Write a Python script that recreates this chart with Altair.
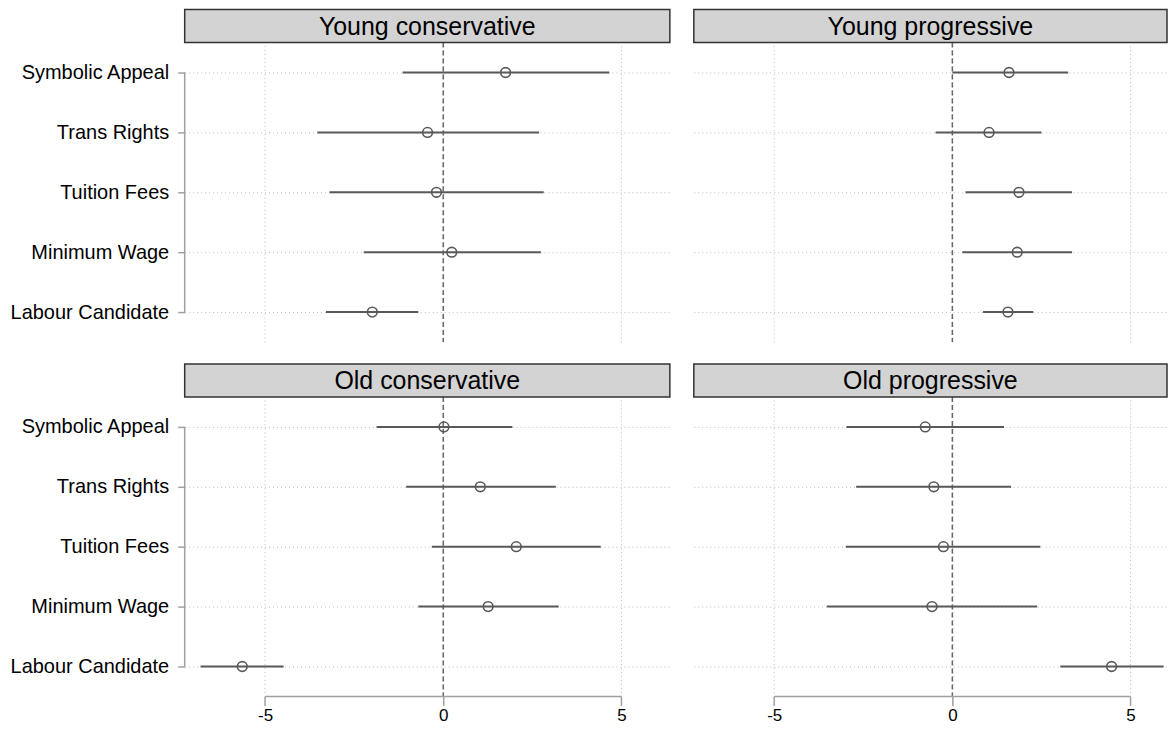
import altair as alt
import pandas as pd

items = ["Symbolic Appeal", "Trans Rights", "Tuition Fees", "Minimum Wage", "Labour Candidate"]
groups = ["Young conservative", "Young progressive", "Old conservative", "Old progressive"]

est_yc = [1.75, -0.44, -0.19, 0.24, -1.99]
lo_yc = [-1.14, -3.53, -3.19, -2.23, -3.29]
hi_yc = [4.66, 2.69, 2.82, 2.74, -0.70]

est_yp = [1.59, 1.03, 1.87, 1.82, 1.56]
lo_yp = [0.00, -0.47, 0.37, 0.28, 0.86]
hi_yp = [3.25, 2.50, 3.36, 3.36, 2.27]

est_oc = [0.02, 1.04, 2.05, 1.26, -5.64]
lo_oc = [-1.87, -1.04, -0.32, -0.70, -6.81]
hi_oc = [1.94, 3.16, 4.42, 3.24, -4.48]

est_op = [-0.76, -0.52, -0.25, -0.57, 4.47]
lo_op = [-2.97, -2.70, -2.99, -3.52, 3.03]
hi_op = [1.45, 1.65, 2.47, 2.38, 5.93]

tick_values = [-5, 0, 5]

series = {
    "Young conservative": (est_yc, lo_yc, hi_yc),
    "Young progressive": (est_yp, lo_yp, hi_yp),
    "Old conservative": (est_oc, lo_oc, hi_oc),
    "Old progressive": (est_op, lo_op, hi_op),
}

rows = []
for g in groups:
    e, l, h = series[g]
    for i, it in enumerate(items):
        rows.append({"group": g, "item": it, "est": e[i], "lo": l[i], "hi": h[i]})
df = pd.DataFrame(rows)

FONT = "Liberation Sans"
W1, W2, H = 486, 474, 300
HEAD = 33
XLO, XHI = -7.255, 6.36
unit = W1 / (XHI - XLO)
XHI2 = XLO + W2 / unit
LINE = "#595959"
AXC = "#a0a0a0"
GRID = "#bdbdbd"


def panel(g, width, xhi, left, bottom):
    base = alt.Chart(df).transform_filter(alt.datum.group == g)
    one = base.transform_filter(alt.datum.item == items[0])
    xscale = alt.Scale(domain=[XLO, xhi], nice=False, zero=False)
    yscale = alt.Scale(type="point", padding=0.5, domain=items)
    xaxis = alt.Axis(values=tick_values, grid=True, gridDash=[1, 3], gridColor=GRID, gridWidth=1,
                     domain=False, ticks=bottom, labels=bottom, tickSize=9, tickColor=AXC,
                     tickWidth=1.5, labelFontSize=17, labelFont=FONT, labelColor="black",
                     labelPadding=2, labelExpr="'' + datum.value", title=None)
    yaxis = alt.Axis(grid=True, gridDash=[1, 3], gridColor=GRID, gridWidth=1,
                     domain=False, ticks=left, labels=left, tickSize=7, tickColor=AXC,
                     tickWidth=1.5, labelFontSize=20, labelFont=FONT, labelColor="black",
                     labelPadding=9, title=None)

    zero = one.mark_rule(color="#666666", strokeDash=[5, 3], strokeWidth=1.5).encode(
        x=alt.datum(0), y=alt.value(0), y2=alt.value(H))
    ci = base.mark_rule(color=LINE, strokeWidth=2).encode(
        x=alt.X("lo:Q", scale=xscale, axis=xaxis),
        x2="hi:Q",
        y=alt.Y("item:N", scale=yscale, sort=items, axis=yaxis),
    )
    pts = base.mark_point(shape="circle", filled=False, color=LINE, strokeWidth=1.6,
                          size=95, opacity=1).encode(x="est:Q", y=alt.Y("item:N", sort=items))
    head = one.mark_rect(fill="#d3d3d3", stroke="#333333", strokeWidth=1.5).encode(
        x=alt.value(0), x2=alt.value(width), y=alt.value(-HEAD), y2=alt.value(0))
    txt = one.mark_text(fontSize=25, font=FONT, color="black", baseline="middle",
                        align="center").encode(
        x=alt.value(width / 2), y=alt.value(-HEAD / 2 + 1), text="group:N")
    layers = [zero, ci, pts, head, txt]
    if left:
        layers.append(one.mark_rule(color=AXC, strokeWidth=1.5).encode(
            x=alt.value(0), y=alt.YDatum(items[0], type="nominal"),
            y2=alt.Y2Datum(items[-1])))
    if bottom:
        layers.append(one.mark_rule(color=AXC, strokeWidth=1.5).encode(
            x=alt.datum(tick_values[0]), x2=alt.datum(tick_values[-1]), y=alt.value(H)))
    return alt.layer(*layers).properties(width=width, height=H)


top = alt.hconcat(panel(groups[0], W1, XHI, True, False),
                  panel(groups[1], W2, XHI2, False, False), spacing=22)
bot = alt.hconcat(panel(groups[2], W1, XHI, True, True),
                  panel(groups[3], W2, XHI2, False, True), spacing=22)
chart = alt.vconcat(top, bot, spacing=20).properties(
    padding={"left": 1, "top": 0, "right": 0, "bottom": 0}
).configure_view(stroke=None)

chart.save("out.html", embed_options={"renderer": "svg", "actions": False})
